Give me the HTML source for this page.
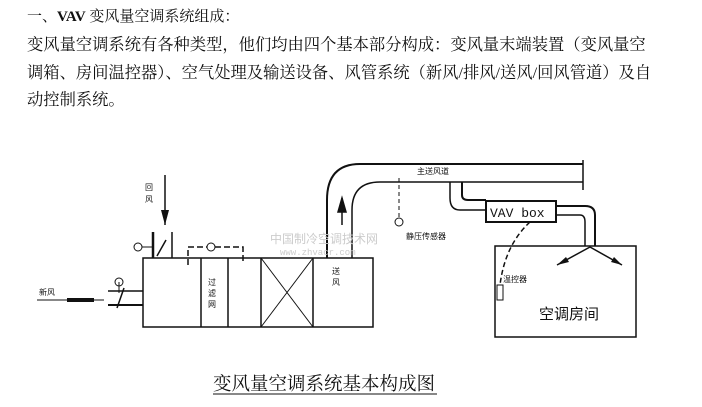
<!DOCTYPE html>
<html><head><meta charset="utf-8"><style>
body{margin:0;width:702px;height:407px;background:#fff;overflow:hidden;position:relative;font-family:"Liberation Serif","Noto Serif CJK SC","Noto Sans CJK SC",serif;color:#111}
.t{position:absolute;left:27px;font-size:16.3px;white-space:nowrap;line-height:20px}
svg{position:absolute;left:0;top:0}
</style></head><body>
<div class="t" style="top:7px;font-size:15px">一、<b>VAV</b> 变风量空调系统组成：</div>
<div class="t" style="top:35px">变风量空调系统有各种类型，他们均由四个基本部分构成：变风量末端装置（变风量空</div>
<div class="t" style="top:63px">调箱、房间温控器）、空气处理及输送设备、风管系统（新风/排风/送风/回风管道）及自</div>
<div class="t" style="top:90px">动控制系统。</div>
<svg width="702" height="407" viewBox="0 0 702 407" font-family="Liberation Sans,Noto Sans CJK SC,sans-serif">
<g stroke="#111" fill="none" stroke-width="1.5">
<rect x="143" y="258" width="230" height="69"/>
<line x1="201" y1="258" x2="201" y2="327"/>
<line x1="228" y1="258" x2="228" y2="327"/>
<line x1="261" y1="258" x2="261" y2="327"/>
<line x1="313" y1="258" x2="313" y2="327"/>
<line x1="261" y1="258" x2="313" y2="327" stroke-width="1"/>
<line x1="313" y1="258" x2="261" y2="327" stroke-width="1"/>
<line x1="108" y1="291" x2="143" y2="291"/>
<line x1="108" y1="305" x2="143" y2="305" stroke-width="2"/>
<line x1="37" y1="300" x2="104" y2="300" stroke-width="1"/>
<line x1="67" y1="300" x2="94" y2="300" stroke-width="4"/>
<line x1="117" y1="308" x2="124" y2="288"/>
<line x1="119" y1="282" x2="119" y2="293" stroke-width="1"/>
<circle cx="119" cy="282" r="4" stroke-width="1"/>
<line x1="153" y1="232" x2="153" y2="258" stroke-width="2.5"/>
<line x1="172" y1="232" x2="172" y2="258"/>
<line x1="157" y1="256" x2="166" y2="240"/>
<circle cx="138" cy="247" r="4" stroke-width="1"/>
<line x1="142" y1="247" x2="153" y2="247" stroke-width="1"/>
<line x1="165" y1="175" x2="165" y2="225"/>
<polyline points="188,265 188,247 243,247 243,263" stroke-dasharray="6,3"/>
<circle cx="211" cy="247" r="4" fill="#fff" stroke-width="1"/>
<path d="M327 258 V200 Q327 164 360 164 H583" stroke-width="2"/>
<path d="M352 258 V210 Q352 182 380 182 H583"/>
<line x1="583" y1="160" x2="583" y2="190"/>
<line x1="342" y1="225" x2="342" y2="198"/>
<polygon points="342,198 338,212 346,212" fill="#111"/>
<line x1="399" y1="178" x2="399" y2="218" stroke-dasharray="4,3" stroke-width="1"/>
<circle cx="399" cy="222" r="4" stroke-width="1"/>
<path d="M450 182 V198 Q450 210 460 210 H486"/>
<path d="M462 182 V195 Q462 200 468 200 H486" stroke-width="2"/>
<rect x="486" y="201" width="70" height="21" stroke-width="2"/>
<path d="M556 206 H585 Q595 206 595 215 V246" stroke-width="2"/>
<path d="M556 215 H580 Q585 215 585 222 V246"/>
<rect x="495" y="246" width="141" height="91"/>
<line x1="590" y1="247" x2="557" y2="265"/>
<line x1="590" y1="247" x2="622" y2="265"/>
<path d="M530 222 Q505 245 500 285" stroke-dasharray="5,3"/>
<rect x="497" y="285" width="6" height="15" stroke-width="1"/>
<line x1="213" y1="394" x2="437" y2="394" stroke-width="1"/>
</g>
<polygon points="165,225 161,210 169,210" fill="#111"/>
<polygon points="557,265 566,257 569,262" fill="#111"/>
<polygon points="622,265 611,262 614,257" fill="#111"/>
<g font-size="8" fill="#111">
<text x="145" y="190">回</text><text x="145" y="202">风</text>
<text x="39" y="295">新风</text>
<text x="208" y="285">过</text><text x="208" y="296">滤</text><text x="208" y="307">网</text>
<text x="332" y="274">送</text><text x="332" y="285">风</text>
<text x="406" y="239">静压传感器</text>
<text x="417" y="174">主送风道</text>
<text x="503" y="282">温控器</text>
</g>
<text x="270" y="243" font-size="12" fill="#ccc">中国制冷空调技术网</text>
<text x="280" y="255" font-size="9" fill="#ccc" font-family="Liberation Mono,monospace">www.zhvacr.com</text>
<text x="490" y="217" font-size="13" fill="#111" font-family="Liberation Mono,monospace">VAV box</text>
<text x="539" y="319" font-size="15" fill="#111">空调房间</text>
<text x="213" y="390" font-size="18.5" fill="#111" font-family="Liberation Serif,Noto Serif CJK SC,serif">变风量空调系统基本构成图</text>
</svg>
</body></html>
